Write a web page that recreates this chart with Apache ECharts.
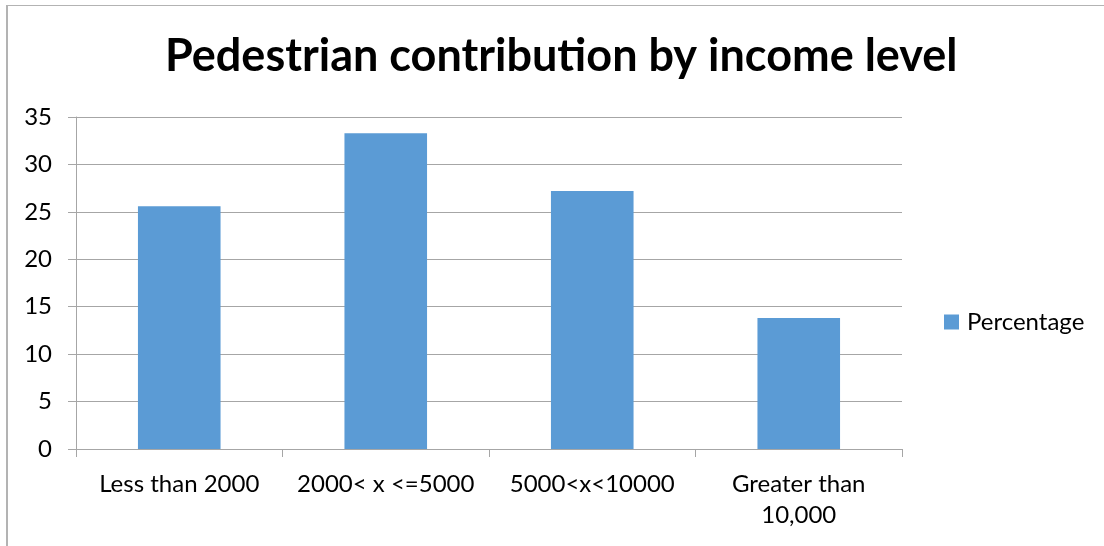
<!DOCTYPE html>
<html>
<head>
<meta charset="utf-8">
<title>Pedestrian contribution by income level</title>
<script src="https://cdn.jsdelivr.net/npm/echarts@6/dist/echarts.min.js"></script>
<style>
  html, body { margin: 0; padding: 0; background: #ffffff; }
  #chart { width: 1104px; height: 546px; }
</style>
</head>
<body>
<div id="chart"></div>
<script>
// Income brackets and the share of pedestrians in each
const categories = ['Less than 2000', '2000< x <=5000', '5000<x<10000', 'Greater than\n10,000'];
const percentage = [25.6, 33.3, 27.2, 13.8];
const yTicks = { min: 0, max: 35, interval: 5 };

const FONT = 'Lato';
const chart = echarts.init(document.getElementById('chart'), null, { renderer: 'canvas' });

chart.setOption({
  backgroundColor: '#ffffff',
  animation: false,
  title: {
    text: 'Pedestrian contribution by income level',
    left: 160,
    top: 29,
    textStyle: { fontFamily: FONT, fontWeight: 'bold', fontSize: 45, color: '#000000' }
  },
  legend: {
    orient: 'vertical',
    left: 939,
    top: 305,
    itemWidth: 15,
    itemHeight: 15,
    itemGap: 8,
    icon: 'rect',
    textStyle: { fontFamily: FONT, fontSize: 24, color: '#000000', padding: [0, 0, 0, 3] },
    data: ['Percentage']
  },
  grid: { left: 76, right: 202, top: 117, bottom: 97, containLabel: false },
  xAxis: {
    type: 'category',
    data: categories,
    axisLine: { show: true, lineStyle: { color: '#a6a6a6', width: 1 } },
    axisTick: { show: true, alignWithLabel: false, length: 8, lineStyle: { color: '#a6a6a6' } },
    axisLabel: { fontFamily: FONT, fontSize: 24, color: '#000000', margin: 20, lineHeight: 31, interval: 0 }
  },
  yAxis: {
    type: 'value',
    min: yTicks.min,
    max: yTicks.max,
    interval: yTicks.interval,
    axisLine: { show: true, lineStyle: { color: '#a6a6a6', width: 1 } },
    axisTick: { show: true, length: 8, lineStyle: { color: '#a6a6a6' } },
    axisLabel: { fontFamily: FONT, fontSize: 24, color: '#000000', margin: 24 },
    splitLine: { show: true, lineStyle: { color: '#a6a6a6', width: 1 } }
  },
  series: [{
    name: 'Percentage',
    type: 'bar',
    data: percentage,
    barWidth: '40%',
    itemStyle: { color: '#5b9bd5' }
  }],
  graphic: [
    { type: 'rect', shape: { x: 6, y: 5, width: 2, height: 541 }, style: { fill: '#b3b3b3' }, silent: true },
    { type: 'rect', shape: { x: 6, y: 5, width: 1098, height: 1 }, style: { fill: '#b3b3b3' }, silent: true }
  ]
});
</script>
</body>
</html>
